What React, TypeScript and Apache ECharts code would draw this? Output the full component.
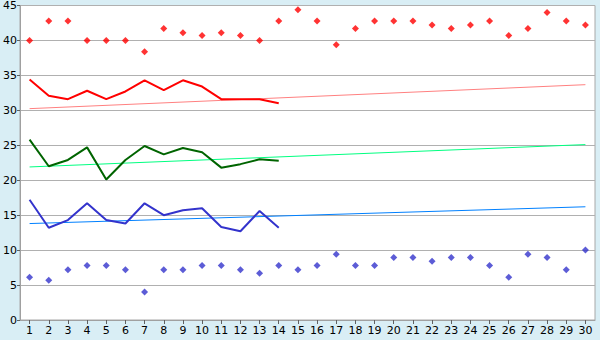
import React, { useEffect, useRef } from "react";
import * as echarts from "echarts";

const categories = Array.from({ length: 30 }, (_, i) => String(i + 1));

const redDots = [40.0, 42.8, 42.8, 40.0, 40.0, 40.0, 38.4, 41.7, 41.1, 40.7, 41.1, 40.7, 40.0, 42.8, 44.4, 42.8, 39.4, 41.7, 42.8, 42.8, 42.8, 42.2, 41.7, 42.2, 42.8, 40.7, 41.7, 44.0, 42.8, 42.2];
const redLine = [34.4, 32.1, 31.6, 32.8, 31.6, 32.7, 34.3, 32.9, 34.3, 33.4, 31.6, 31.6, 31.6, 31.0];
const greenLine = [25.8, 22.0, 22.9, 24.7, 20.1, 22.9, 24.9, 23.7, 24.6, 24.0, 21.8, 22.3, 23.0, 22.8];
const blueLine = [17.2, 13.2, 14.3, 16.7, 14.3, 13.8, 16.7, 15.0, 15.7, 16.0, 13.3, 12.7, 15.6, 13.2];
const blueDots = [6.1, 5.7, 7.2, 7.8, 7.8, 7.2, 4.0, 7.2, 7.2, 7.8, 7.8, 7.2, 6.7, 7.8, 7.2, 7.8, 9.4, 7.8, 7.8, 8.95, 8.95, 8.4, 8.95, 8.95, 7.8, 6.1, 9.4, 8.95, 7.2, 10.0];
const redTrend = [30.24, 33.67];
const greenTrend = [21.9, 25.1];
const blueTrend = [13.8, 16.2];

function trend(ends: number[]) {
  return [[categories[0], ends[0]], [categories[categories.length - 1], ends[1]]];
}

export default function App() {
  const ref = useRef<HTMLDivElement>(null);
  useEffect(() => {
    const chart = echarts.init(ref.current!, null, { renderer: "svg" });
    const font = "DejaVu Sans";
    chart.setOption({
      animation: false,
      backgroundColor: "#d9eef5",
      grid: {
        left: 20,
        right: 5,
        top: 5,
        bottom: 20,
        show: true,
        backgroundColor: "#ffffff",
        borderColor: "#a8a8a8",
        borderWidth: 1,
      },
      xAxis: {
        type: "category",
        data: categories,
        boundaryGap: true,
        axisLine: { lineStyle: { color: "#a0a0a0" } },
        axisTick: { show: true, alignWithLabel: true, length: 4, lineStyle: { color: "#606060" } },
        axisLabel: { color: "#000", fontFamily: font, fontSize: 11, margin: 5, interval: 0 },
        splitLine: { show: false },
      },
      yAxis: {
        type: "value",
        min: 0,
        max: 45,
        interval: 5,
        axisLine: { show: true, lineStyle: { color: "#a0a0a0" } },
        axisTick: { show: true, length: 3, lineStyle: { color: "#606060" } },
        axisLabel: { color: "#000", fontFamily: font, fontSize: 11, margin: 3 },
        splitLine: { lineStyle: { color: "#b0b0b0", width: 1 } },
      },
      series: [
        { type: "line", data: trend(redTrend), symbol: "none", lineStyle: { color: "#ff8080", width: 1 }, z: 2 },
        { type: "line", data: trend(greenTrend), symbol: "none", lineStyle: { color: "#00ff80", width: 1 }, z: 2 },
        { type: "line", data: trend(blueTrend), symbol: "none", lineStyle: { color: "#0080ff", width: 1 }, z: 2 },
        { type: "line", data: redLine, symbol: "none", lineStyle: { color: "#ff0000", width: 2 }, z: 3 },
        { type: "line", data: greenLine, symbol: "none", lineStyle: { color: "#006400", width: 2 }, z: 3 },
        { type: "line", data: blueLine, symbol: "none", lineStyle: { color: "#3333cc", width: 2 }, z: 3 },
        { type: "scatter", data: redDots, symbol: "diamond", symbolSize: 7, itemStyle: { color: "#ff0000" }, z: 4 },
        { type: "scatter", data: blueDots, symbol: "diamond", symbolSize: 7, itemStyle: { color: "#3333cc" }, z: 4 },
      ],
    });
    return () => chart.dispose();
  }, []);
  return (
    <div
      ref={ref}
      style={{ position: "absolute", left: 0, top: 0, width: 600, height: 340 }}
    />
  );
}
